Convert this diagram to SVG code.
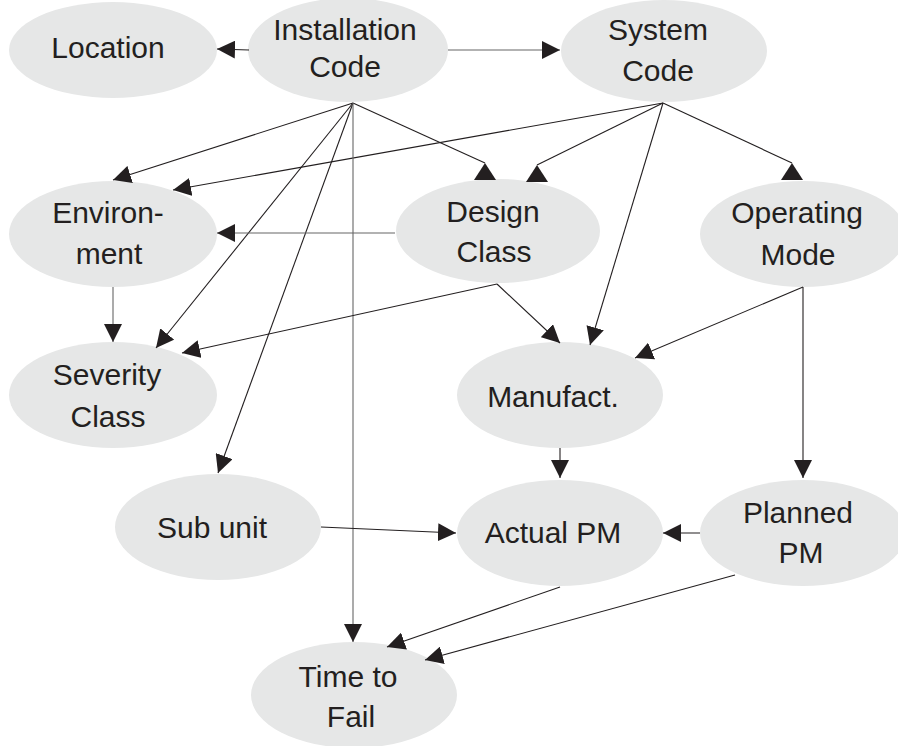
<svg xmlns="http://www.w3.org/2000/svg" width="898" height="746" viewBox="0 0 898 746">
<defs>
<style>
.n ellipse{fill:#e6e7e7;stroke:none}
.n text{font-family:"Liberation Sans",Arial,sans-serif;font-size:30px;fill:#231f20;text-anchor:middle}
.e line{stroke:#231f20;stroke-width:1.1;fill:none;marker-end:url(#ah)}
.e line.g{stroke:#666}
.e line.u{marker-end:url(#up)}
</style>
<marker id="ah" markerUnits="userSpaceOnUse" markerWidth="18" markerHeight="18" refX="18" refY="9" orient="auto" viewBox="0 0 18 18">
<path d="M0,0 L18,9 L0,18 z" fill="#231f20"/>
</marker>
<marker id="up" markerUnits="userSpaceOnUse" markerWidth="22" markerHeight="17" refX="11" refY="0" orient="0" viewBox="0 0 22 17">
<path d="M11,0 L22,17 L0,17 z" fill="#231f20"/>
</marker>
</defs>
<rect width="898" height="746" fill="#ffffff"/>
<g id="nodes">
<g id="location" class="n"><ellipse cx="113" cy="50" rx="104" ry="48"/><text x="108" y="58">Location</text></g>
<g id="installation" class="n"><ellipse cx="348" cy="50" rx="100" ry="52"/><text x="345" y="40">Installation</text><text x="345" y="77">Code</text></g>
<g id="system" class="n"><ellipse cx="664" cy="51" rx="103" ry="51"/><text x="658" y="40">System</text><text x="658" y="81">Code</text></g>
<g id="environment" class="n"><ellipse cx="113" cy="234" rx="104" ry="53"/><text x="108" y="223">Environ-</text><text x="109" y="264">ment</text></g>
<g id="design" class="n"><ellipse cx="498" cy="231" rx="102" ry="52"/><text x="493" y="222">Design</text><text x="494" y="262">Class</text></g>
<g id="operating" class="n"><ellipse cx="803" cy="234" rx="103" ry="53"/><text x="797" y="223">Operating</text><text x="798" y="265">Mode</text></g>
<g id="severity" class="n"><ellipse cx="113" cy="395" rx="104" ry="53"/><text x="107" y="385">Severity</text><text x="108" y="427">Class</text></g>
<g id="manufact" class="n"><ellipse cx="560" cy="395" rx="103" ry="53"/><text x="553" y="407">Manufact.</text></g>
<g id="subunit" class="n"><ellipse cx="218" cy="527" rx="103" ry="53"/><text x="212" y="538">Sub unit</text></g>
<g id="actual" class="n"><ellipse cx="560" cy="533" rx="103" ry="53"/><text x="553" y="543">Actual PM</text></g>
<g id="planned" class="n"><ellipse cx="803" cy="533" rx="103" ry="53"/><text x="798" y="523">Planned</text><text x="801" y="563">PM</text></g>
<g id="timetofail" class="n"><ellipse cx="354" cy="695" rx="103" ry="53"/><text x="348" y="687">Time to</text><text x="351" y="727">Fail</text></g>
</g>
<g id="connectors" class="e">
<line x1="249" y1="50" x2="217" y2="49"/>
<line x1="448" y1="50" x2="560" y2="50" class="g"/>
<line x1="353" y1="103" x2="113" y2="180"/>
<line x1="353" y1="103" x2="485" y2="163" class="u"/>
<line x1="663" y1="103" x2="537" y2="165" class="u"/>
<line x1="663" y1="103" x2="792" y2="163" class="u"/>
<line x1="663" y1="103" x2="173" y2="190"/>
<line x1="353" y1="103" x2="156" y2="348"/>
<line x1="353" y1="103" x2="218" y2="473"/>
<line x1="353" y1="103" x2="353" y2="642" class="g"/>
<line x1="663" y1="103" x2="590" y2="345"/>
<line x1="395" y1="233" x2="217" y2="233" class="g"/>
<line x1="497" y1="284" x2="182" y2="353"/>
<line x1="497" y1="284" x2="560" y2="343"/>
<line x1="803" y1="287" x2="635" y2="358"/>
<line x1="803" y1="287" x2="803" y2="478"/>
<line x1="113" y1="287" x2="113" y2="342" class="g"/>
<line x1="560" y1="448" x2="560" y2="478"/>
<line x1="321" y1="527" x2="456" y2="533"/>
<line x1="700" y1="533" x2="663" y2="533"/>
<line x1="560" y1="587" x2="387" y2="647"/>
<line x1="735" y1="575" x2="425" y2="660"/>
</g>
</svg>
